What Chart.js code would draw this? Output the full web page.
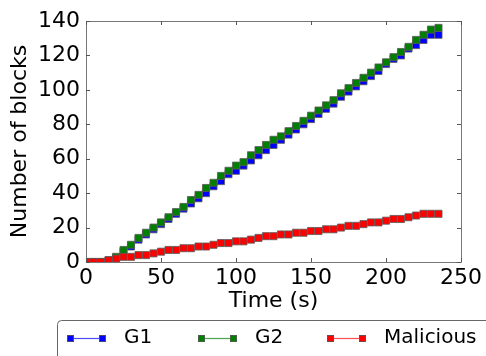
<!DOCTYPE html>
<html>
<head>
<meta charset="utf-8">
<script src="https://cdn.jsdelivr.net/npm/chart.js@4/dist/chart.umd.min.js"></script>
<style>
  html, body { margin: 0; padding: 0; background: #fff; }
  #wrap { width: 486px; height: 356px; position: relative; }
</style>
</head>
<body>
<div id="wrap"><canvas id="c" width="486" height="356"></canvas></div>
<script>
const times = [0,5,10,15,20,25,30,35,40,45,50,55,60,65,70,75,80,85,90,95,100,105,110,115,120,125,130,135,140,145,150,155,160,165,170,175,180,185,190,195,200,205,210,215,220,225,230,235];
const g1 = [0,0,0,0,2,6,9,13,16,19,22,25,28,31,34,37,40,44,47,51,53,56,59,62,65,68,71,74,77,80,83,86,89,92,96,99,102,105,108,111,115,118,120,124,126,129,132,132];
const g2 = [0,0,0,1,3,7,10,14,17,20,23,26,29,32,36,39,43,46,50,53,56,58,62,65,68,71,73,76,79,82,85,88,91,94,98,101,104,107,110,113,116,119,122,125,129,132,135,136];
const malicious = [0,0,0,1,2,3,3,4,4,5,6,7,7,8,8,9,9,10,11,11,12,12,13,14,15,15,16,16,17,17,18,18,19,19,20,21,21,22,23,23,24,25,25,26,27,28,28,28];
const seriesNames = ['G1', 'G2', 'Malicious'];
const xTicks = [0, 50, 100, 150, 200, 250];
const yTicks = [0, 20, 40, 60, 80, 100, 120, 140];

const FONT = "'DejaVu Sans', sans-serif";

function pts(ys) { return times.map((t, i) => ({ x: t, y: ys[i] })); }

function ds(label, ys, color, lineColor, order) {
  return {
    label, data: pts(ys), order,
    borderColor: lineColor, backgroundColor: color,
    borderWidth: 1,
    pointStyle: 'rect', pointRadius: 5, pointHoverRadius: 5,
    pointBackgroundColor: color, pointBorderColor: 'rgba(90,90,90,0.8)', pointBorderWidth: 1,
    tension: 0, fill: false
  };
}

const frameAndTicks = {
  id: 'frameAndTicks',
  afterDatasetsDraw(chart) {
    const { ctx, chartArea: a, scales: { x, y } } = chart;
    ctx.save();
    ctx.strokeStyle = '#777';
    ctx.lineWidth = 1;
    ctx.beginPath();
    ctx.rect(Math.round(a.left) + 0.5, Math.round(a.top) + 0.5, Math.round(a.right - a.left), Math.round(a.bottom - a.top));
    ctx.stroke();
    ctx.strokeStyle = '#555';
    const L = 4;
    ctx.beginPath();
    x.ticks.forEach(t => {
      const px = Math.round(x.getPixelForValue(t.value)) + 0.5;
      ctx.moveTo(px, a.bottom); ctx.lineTo(px, a.bottom - L);
      ctx.moveTo(px, a.top); ctx.lineTo(px, a.top + L);
    });
    y.ticks.forEach(t => {
      const py = Math.round(y.getPixelForValue(t.value)) + 0.5;
      ctx.moveTo(a.left, py); ctx.lineTo(a.left + L, py);
      ctx.moveTo(a.right, py); ctx.lineTo(a.right - L, py);
    });
    ctx.stroke();
    ctx.restore();
  }
};

const customLegend = {
  id: 'customLegend',
  afterDraw(chart) {
    const { ctx } = chart;
    ctx.save();
    const bx = 57.5, by = 320.5, bw = 480, bh = 50, r = 4;
    ctx.strokeStyle = '#666';
    ctx.lineWidth = 1;
    ctx.beginPath();
    ctx.moveTo(bx + r, by);
    ctx.lineTo(bx + bw - r, by);
    ctx.arcTo(bx + bw, by, bx + bw, by + r, r);
    ctx.lineTo(bx + bw, by + bh);
    ctx.lineTo(bx, by + bh);
    ctx.lineTo(bx, by + r);
    ctx.arcTo(bx, by, bx + r, by, r);
    ctx.stroke();
    const starts = [70, 201, 330];
    const yc = 338;
    chart.data.datasets.forEach((d, i) => {
      const x0 = starts[i], x1 = x0 + 32;
      ctx.strokeStyle = d.borderColor;
      ctx.lineWidth = 1.2;
      ctx.beginPath(); ctx.moveTo(x0, yc + 0.5); ctx.lineTo(x1, yc + 0.5); ctx.stroke();
      ctx.fillStyle = d.pointBackgroundColor;
      ctx.strokeStyle = d.pointBorderColor;
      ctx.lineWidth = 1;
      [x0, x1].forEach(px => {
        ctx.fillRect(px - 3, yc - 3, 7, 7);
        ctx.strokeRect(px - 3 + 0.5, yc - 3 + 0.5, 6, 6);
      });
      ctx.fillStyle = '#000';
      ctx.font = "20px " + FONT;
      ctx.textBaseline = 'middle';
      ctx.textAlign = 'left';
      ctx.fillText(d.label, x1 + 22, yc);
    });
    ctx.restore();
  }
};

new Chart(document.getElementById('c'), {
  type: 'line',
  data: {
    datasets: [
      ds(seriesNames[0], g1, '#0000ff', 'rgba(0,0,255,0.7)', 3),
      ds(seriesNames[1], g2, '#008000', 'rgba(0,128,0,0.7)', 2),
      ds(seriesNames[2], malicious, '#ff0000', 'rgba(255,0,0,0.7)', 1)
    ]
  },
  options: {
    responsive: false,
    animation: false,
    devicePixelRatio: 1,
    layout: { padding: { left: 0, right: 25, top: 21, bottom: 0 } },
    plugins: { legend: { display: false }, tooltip: { enabled: false } },
    scales: {
      x: {
        type: 'linear', min: 0, max: 250,
        afterFit(s) { s.height = 94; },
        afterBuildTicks(s) { s.ticks = xTicks.map(v => ({ value: v })); },
        grid: { display: false, drawTicks: false },
        border: { display: false },
        ticks: { color: '#000', font: { family: FONT, size: 22 }, padding: 3, maxRotation: 0 },
        title: { display: true, text: 'Time (s)', color: '#000', font: { family: FONT, size: 22 }, padding: { top: 0, bottom: 42 } }
      },
      y: {
        type: 'linear', min: 0, max: 140,
        afterFit(s) { s.width = 86; },
        afterBuildTicks(s) { s.ticks = yTicks.map(v => ({ value: v })); },
        grid: { display: false, drawTicks: false },
        border: { display: false },
        ticks: { color: '#000', font: { family: FONT, size: 22 }, padding: 6 },
        title: { display: true, text: 'Number of blocks', color: '#000', font: { family: FONT, size: 22 }, padding: { top: 7, bottom: 0 } }
      }
    }
  },
  plugins: [frameAndTicks, customLegend]
});
</script>
</body>
</html>
